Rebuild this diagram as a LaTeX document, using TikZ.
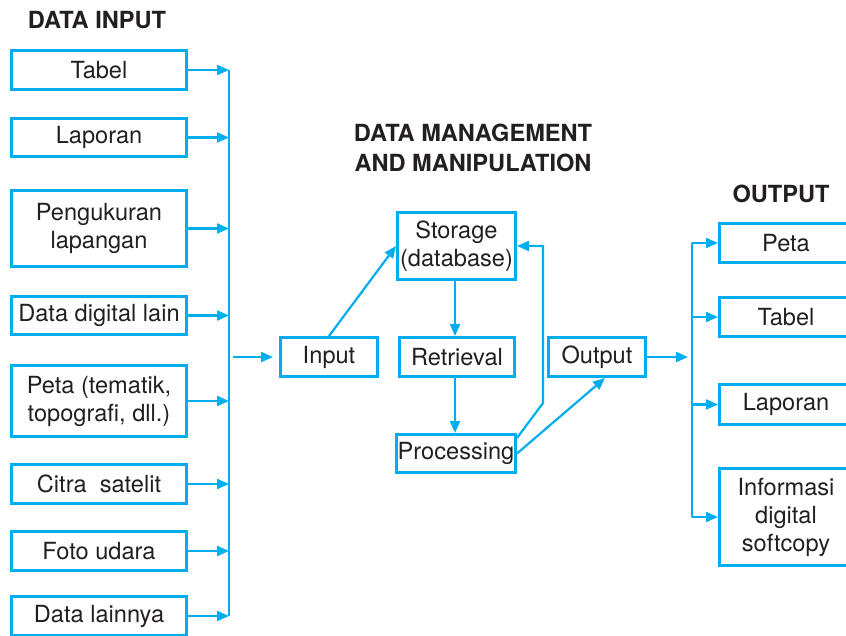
\documentclass[tikz,border=0pt]{standalone}
\usepackage{fontspec}
\setmainfont{TeX Gyre Heros}
\usetikzlibrary{arrows.meta}
\definecolor{biru}{RGB}{0,174,239}
\definecolor{teks}{RGB}{35,31,32}
\tikzset{
    kotak/.style={draw=biru, line width=1.4pt, text=teks, align=center, inner sep=0pt,
        font=\fontsize{11.8}{14}\selectfont},
    judul/.style={text=teks, align=center, font=\fontsize{11.8}{15}\selectfont\bfseries},
    garis/.style={draw=biru, line width=1.1pt},
    panah/.style={garis, -{Triangle[length=6pt,width=5pt]}}
}
\begin{document}
\begin{tikzpicture}[x=0.5pt,y=-0.5pt]
            \useasboundingbox (0,0) rectangle (846,636);
            \clip (0,0) rectangle (846,636);
            \coordinate (bus) at (229,0);
            \coordinate (rbus) at (692,0);
            \coordinate (tengah) at (455,0);
            % data input
            \node[judul] (jinput) at (97,20) {DATA INPUT};
            \foreach \nama/\y/\h/\isi in {tabel/70/19.6/Tabel, laporan/137.5/19.1/Laporan,
                ukur/228.5/38.1/{Pengukuran\\lapangan}, digital/315.5/19.1/Data digital lain,
                peta/401/35.6/{Peta (tematik,\\topografi, dll.)}, citra/484/19.6/Citra~~satelit,
                foto/551/19.6/Foto udara, lain/616/19.6/Data lainnya}
            {
                \node[kotak, minimum width=87.6pt, minimum height=\h pt] (\nama) at (99,\y) {\isi};
                \draw[panah] (\nama.east) -- (\nama.east -| bus);
            };
            \draw[garis] (tabel.east -| bus) -- (lain.east -| bus);
            % data management and manipulation
            \node[judul] (jmanage) at (473,148) {DATA MANAGEMENT\\AND MANIPULATION};
            \node[kotak, minimum width=48.6pt, minimum height=19.6pt] (input) at (329,357) {Input};
            \node[kotak, minimum width=59.1pt, minimum height=33.6pt] (storage) at (456.5,246) {Storage\\(database)};
            \node[kotak, minimum width=57.6pt, minimum height=19.6pt] (retrieval) at (457,357) {Retrieval};
            \node[kotak, minimum width=59.6pt, minimum height=19.1pt] (processing) at (456,453.5) {Processing};
            \node[kotak, minimum width=48.6pt, minimum height=19.6pt] (output) at (597,357) {Output};
            \coordinate (balik) at (543,403);
            \draw[panah, shorten >=3pt] ([xshift=2pt]input.west -| bus) -- (input.west);
            \draw[panah] (input.north) -- (storage.west);
            \draw[panah] (storage.south -| tengah) -- (retrieval.north -| tengah);
            \draw[panah] (retrieval.south -| tengah) -- (processing.north -| tengah);
            \draw[panah] ([yshift=-2.5pt]processing.north east) -- (balik) |- (storage.east);
            \draw[panah] (processing.east) -- ([xshift=4pt]output.south);
            \draw[panah, shorten >=2pt] (output.east) -- (output.east -| rbus);
            % output
            \node[judul] (joutput) at (781,194) {OUTPUT};
            \foreach \nama/\y/\h/\isi in {opeta/243/19.6/Peta, otabel/317/19.6/Tabel,
                olaporan/404.5/20.1/Laporan, oinfo/517/48.6/{Informasi\\digital\\softcopy}}
            {
                \node[kotak, minimum width=66.6pt, minimum height=\h pt] (\nama) at (786,\y) {\isi};
                \draw[panah] (\nama.west -| rbus) -- (\nama.west);
            };
            \draw[garis] (opeta.west -| rbus) -- (oinfo.west -| rbus);
        \end{tikzpicture}
\end{document}
